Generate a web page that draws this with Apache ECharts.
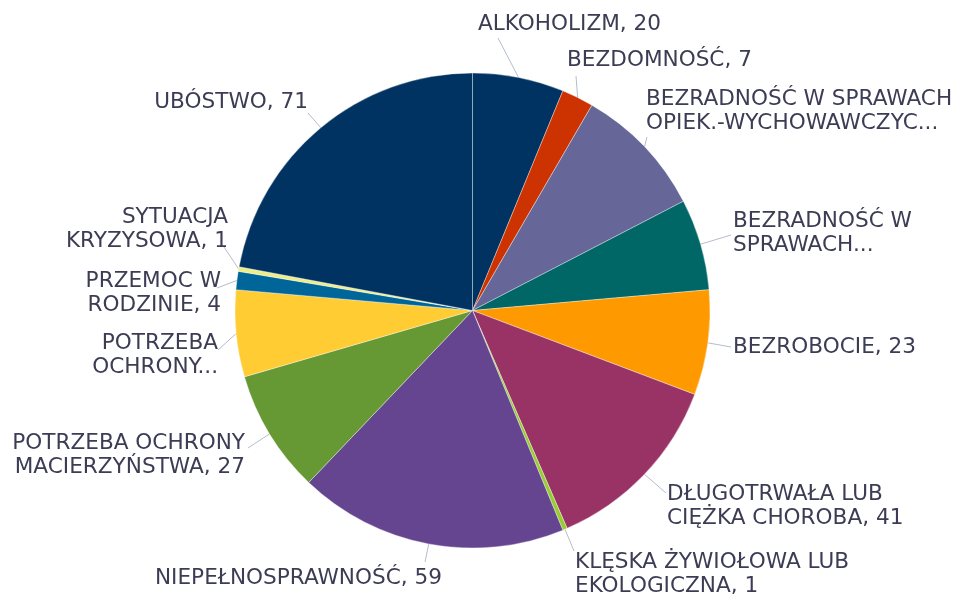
<!DOCTYPE html>
<html>
<head>
<meta charset="utf-8">
<script src="https://cdn.jsdelivr.net/npm/echarts@6/dist/echarts.min.js"></script>
<style>html,body{margin:0;padding:0;background:#fff;}#c{width:959px;height:594px;}</style>
</head>
<body>
<div id="c"></div>
<script>
const categories = [
  'ALKOHOLIZM',
  'BEZDOMNOŚĆ',
  'BEZRADNOŚĆ W SPRAWACH OPIEK.-WYCHOWAWCZYCH',
  'BEZRADNOŚĆ W SPRAWACH PROWADZENIA GOSPODARSTWA DOMOWEGO',
  'BEZROBOCIE',
  'DŁUGOTRWAŁA LUB CIĘŻKA CHOROBA',
  'KLĘSKA ŻYWIOŁOWA LUB EKOLOGICZNA',
  'NIEPEŁNOSPRAWNOŚĆ',
  'POTRZEBA OCHRONY MACIERZYŃSTWA',
  'POTRZEBA OCHRONY OFIAR HANDLU LUDŹMI',
  'PRZEMOC W RODZINIE',
  'SYTUACJA KRYZYSOWA',
  'UBÓSTWO'
];
const values = [20, 7, 29, 20, 23, 41, 1, 59, 27, 19, 4, 1, 71];
const labelTexts = [
  'ALKOHOLIZM, 20',
  'BEZDOMNOŚĆ, 7',
  'BEZRADNOŚĆ W SPRAWACH\nOPIEK.-WYCHOWAWCZYC...',
  'BEZRADNOŚĆ W\nSPRAWACH...',
  'BEZROBOCIE, 23',
  'DŁUGOTRWAŁA LUB\nCIĘŻKA CHOROBA, 41',
  'KLĘSKA ŻYWIOŁOWA LUB\nEKOLOGICZNA, 1',
  'NIEPEŁNOSPRAWNOŚĆ, 59',
  'POTRZEBA OCHRONY\nMACIERZYŃSTWA, 27',
  'POTRZEBA\nOCHRONY...',
  'PRZEMOC W\nRODZINIE, 4',
  'SYTUACJA\nKRYZYSOWA, 1',
  'UBÓSTWO, 71'
];
const colors = ['#003361', '#cc3300', '#666699', '#006666', '#ff9900', '#993366', '#99cc33',
                '#654490', '#669933', '#ffcc33', '#006699', '#eeee88', '#003361'];

(function () {
  // label placement (text anchor + end of leader line), mimicking the original layout
  const place = [
    {x: 478, y: 24,  a: 'left',  ex: 498, ey: 38},
    {x: 567, y: 60,  a: 'left',  ex: 576, ey: 76},
    {x: 646, y: 111, a: 'left',  ex: 647, ey: 137},
    {x: 733, y: 233, a: 'left',  ex: 731, ey: 235},
    {x: 733, y: 347, a: 'left',  ex: 731, ey: 347},
    {x: 667, y: 506, a: 'left',  ex: 666, ey: 493},
    {x: 575, y: 574, a: 'left',  ex: 574, ey: 551},
    {x: 442, y: 578, a: 'right', ex: 425, ey: 562},
    {x: 245, y: 455, a: 'right', ex: 248, ey: 448},
    {x: 218, y: 355, a: 'right', ex: 218, ey: 350},
    {x: 221, y: 293, a: 'right', ex: 217, ey: 288},
    {x: 228, y: 229, a: 'right', ex: 224, ey: 247},
    {x: 308, y: 102, a: 'right', ex: 308, ey: 113}
  ];
  const chart = echarts.init(document.getElementById('c'), null, {renderer: 'canvas'});
  chart.setOption({
    animation: false,
    series: [{
      type: 'pie',
      center: [472.5, 310.5],
      radius: 237.5,
      startAngle: 90,
      clockwise: true,
      avoidLabelOverlap: false,
      itemStyle: {borderColor: 'rgba(255,255,255,0.6)', borderWidth: 0.6},
      label: {
        show: true,
        position: 'outside',
        fontFamily: 'DejaVu Sans',
        fontSize: 21.6,
        lineHeight: 24,
        color: '#3c3c55',
        formatter: p => labelTexts[p.dataIndex]
      },
      labelLine: {
        show: true,
        length: 18,
        length2: 4,
        lineStyle: {color: '#b4bccb', width: 1}
      },
      labelLayout: function (params) {
        const p = place[params.dataIndex];
        const start = params.labelLinePoints ? params.labelLinePoints[0] : [p.ex, p.ey];
        return {
          x: p.x,
          y: p.y,
          align: p.a,
          verticalAlign: 'middle',
          labelLinePoints: [start, [p.ex, p.ey], [p.ex, p.ey]]
        };
      },
      data: categories.map((n, i) => ({name: n, value: values[i], itemStyle: {color: colors[i]}}))
    }]
  });
})();
</script>
</body>
</html>
